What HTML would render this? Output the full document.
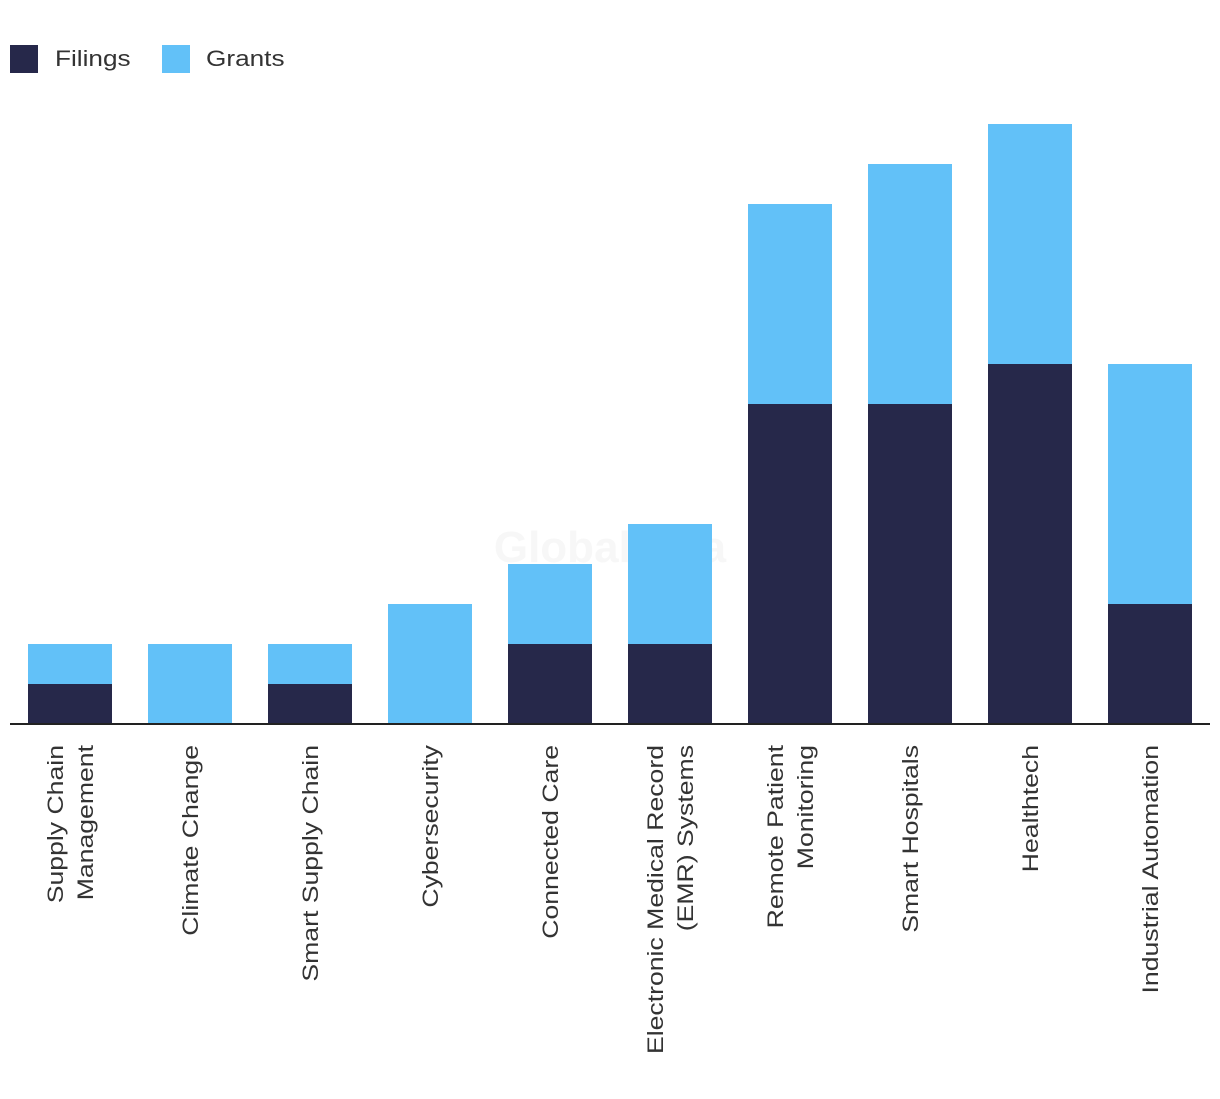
<!DOCTYPE html>
<html><head><meta charset="utf-8"><style>
body{margin:0;background:#fff;width:1220px;height:1094px;overflow:hidden;font-family:"Liberation Sans",sans-serif;}
</style></head><body>
<svg id="chart" width="1220" height="1094" xmlns="http://www.w3.org/2000/svg">
<g>
<rect x="10" y="45" width="28" height="28" fill="#26284a"/>
<text transform="translate(55,66) scale(1.19,1)" font-size="22" fill="#333">Filings</text>
<rect x="162" y="45" width="28" height="28" fill="#62c1f8"/>
<text transform="translate(206,66) scale(1.19,1)" font-size="22" fill="#333">Grants</text>
</g>
<text x="610" y="562" font-size="44" font-weight="bold" fill="#f7f7f7" text-anchor="middle">GlobalData</text>
<g id="bars"></g>
<line x1="10" y1="724" x2="1210" y2="724" stroke="#222" stroke-width="2"/>
<g id="labels"></g>
</svg>
<script>
const categories=[["Supply Chain","Management"],["Climate Change"],["Smart Supply Chain"],["Cybersecurity"],["Connected Care"],["Electronic Medical Record","(EMR) Systems"],["Remote Patient","Monitoring"],["Smart Hospitals"],["Healthtech"],["Industrial Automation"]];
const filings=[1,0,1,0,2,2,8,8,9,3];
const grants=[1,2,1,3,2,3,5,6,6,6];
const NS="http://www.w3.org/2000/svg";
const base=724,unit=40,step=120,x0=28,bw=84;
const y=v=>base-v*unit;
const xc=i=>x0+i*step;
const bars=document.getElementById('bars'),labels=document.getElementById('labels');
categories.forEach((c,i)=>{
  const f=filings[i],g=grants[i];
  const r1=document.createElementNS(NS,'rect');
  r1.setAttribute('x',xc(i));r1.setAttribute('width',bw);
  r1.setAttribute('y',y(f));r1.setAttribute('height',base-y(f));r1.setAttribute('fill','#26284a');
  
  
  bars.appendChild(r1);
  const r2=document.createElementNS(NS,'rect');
  r2.setAttribute('x',xc(i));r2.setAttribute('width',bw);
  r2.setAttribute('y',y(f+g));r2.setAttribute('height',y(f)-y(f+g));r2.setAttribute('fill','#62c1f8');
  
  
  bars.appendChild(r2);
  const cx=xc(i)+bw/2;
  const n=c.length;
  c.forEach((line,j)=>{
    const lx=cx+(j-(n-1)/2)*30+8;
    const t=document.createElementNS(NS,'text');
    t.setAttribute('transform',`translate(${lx},745) rotate(-90) scale(1.21,1)`);
    t.setAttribute('text-anchor','end');t.setAttribute('font-size','22');t.setAttribute('fill','#333');
    t.textContent=line;
    
    
    labels.appendChild(t);
  });
});
</script>
</body></html>
